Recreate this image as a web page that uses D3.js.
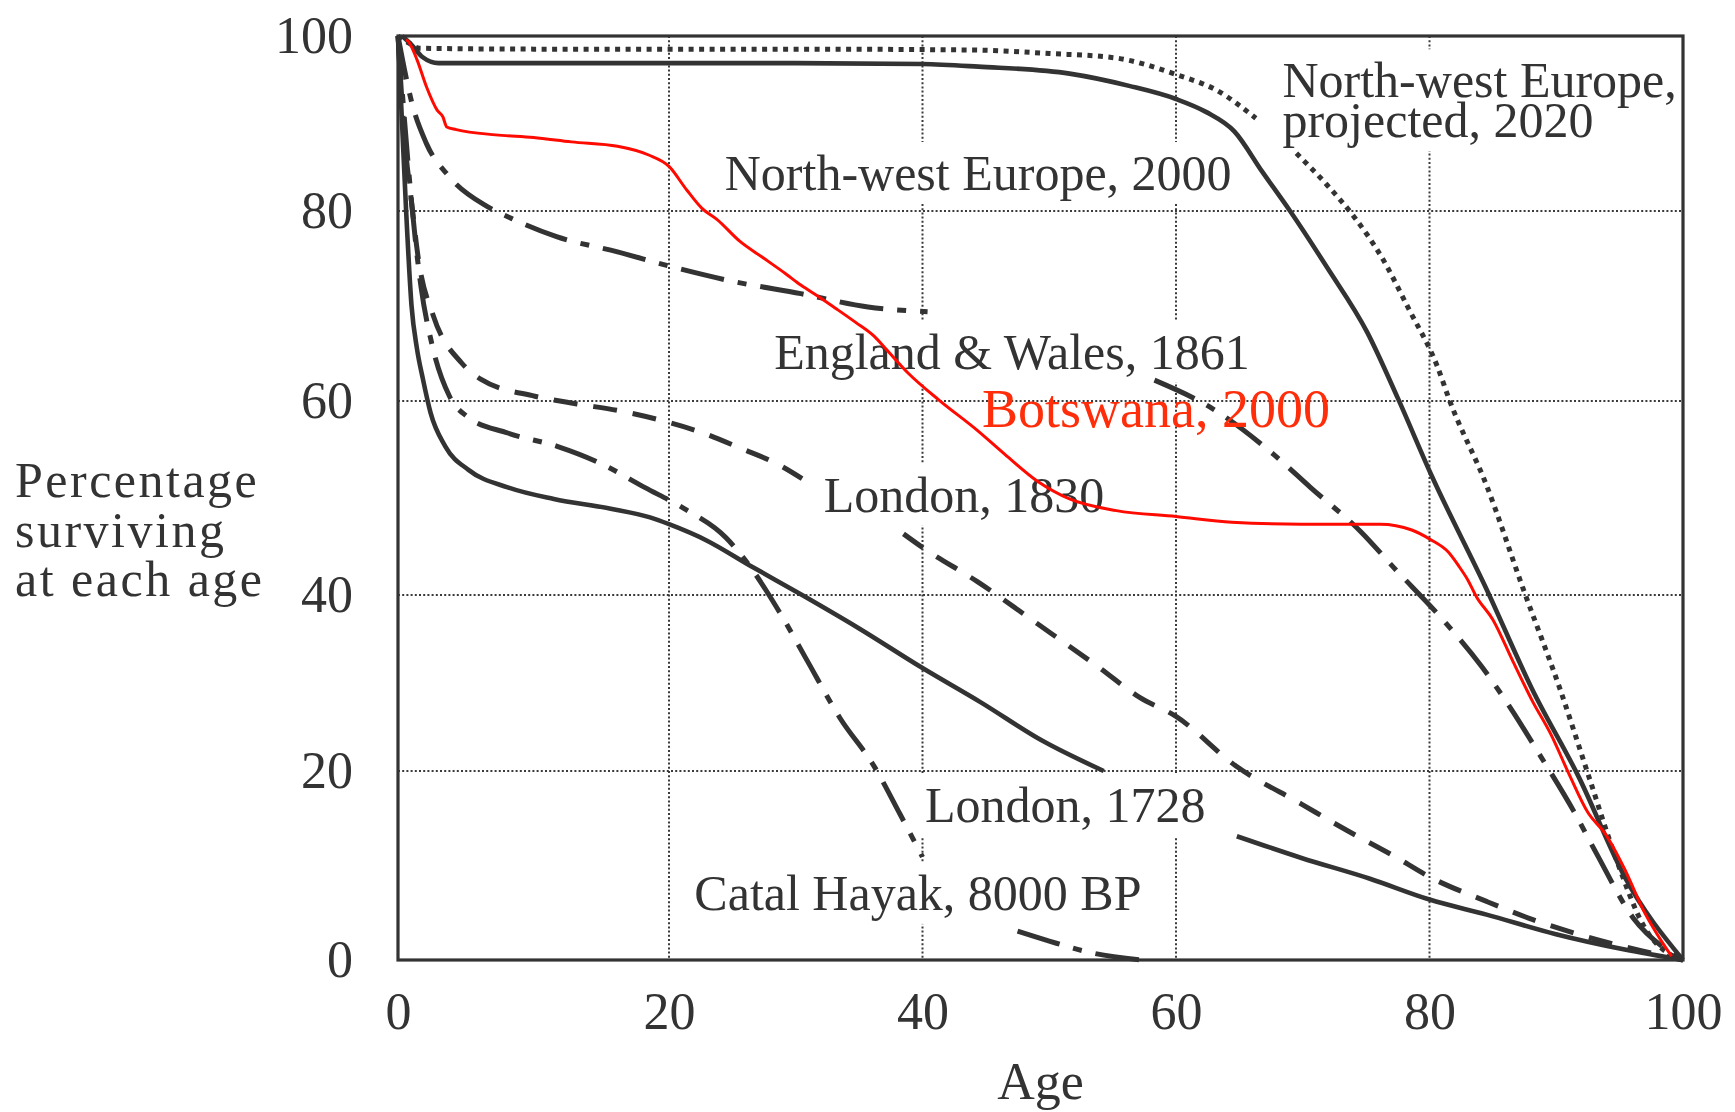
<!DOCTYPE html>
<html>
<head>
<meta charset="utf-8">
<script src="https://cdn.jsdelivr.net/npm/d3@7"></script>
<style>
  body { margin: 0; background: #fff; }
  svg text { font-family: "Liberation Serif", "Times New Roman", serif; fill: #333; }
</style>
</head>
<body>
<div id="viz"></div>
<script>
// survival curves, each point is [age, percentage surviving].
// null = the printed line is broken there (a label sits on top of it)
const nweProjected2020 = [[0,100],[0.8,99.2],[1.6,98.6],[10,98.5],[30,98.5],[44,98.4],[50,98],[55.2,97.5],[60,95.6],[63.2,93.8],[66.3,90.6],
  null,[69.5,86.6],[71.9,83],[74.1,79.3],[76.2,75.2],[78.4,69.6],[80.6,63.7],[81.6,60],[84.5,51.3],[87.4,40.6],[90.3,29.3],[92.5,19.7],[94.7,10.8],[96.9,3.6],[99.4,0.3],[100,0]];
const nwe2000 = [[0.3,100],[1,99],[1.8,97.6],[3,96.9],[10,96.9],[20,96.9],[30,96.9],[40,96.8],[44.4,96.5],[51.6,95.7],[56.3,94.3],[60,92.8],[62.4,91.3],[64.6,89.1],
  [66.8,84.5],[69,80],[71.9,74.1],[75.1,67.2],[77.5,60.3],[80.1,52.5],[84.5,40.6],[88.1,29.3],[91.8,19.3],[95.4,8.8],[100,0]];
const england1861 = [[0,100],[0.5,96],[1,92.5],[2.1,87.7],[3.8,83.9],[6.6,80.5],[8.4,79.2],[11.7,77.3],[16.2,75.7],[20.3,74.1],[25,72.6],[30.4,71.3],[35.7,69.9],[40.4,69.4],
  null,[58.3,62.2],[62.9,59.2],[67.7,54.5],[70.6,51.1],[74.6,46.5],[77.2,42.8],[80.8,37.6],[84.1,31.9],[86.6,26.7],[88.5,22.3],[91.4,15.7],[93.2,11.2],[96.1,4.4],[98.7,1.1],[100,0]];
const london1830 = [[0,100],[0.5,88],[1,81],[1.5,75],[2.6,69],[4.7,64],[6.1,62.3],[10.1,60.5],[13.2,59.7],[16.3,59],[19.7,57.9],[22.7,56.7],[25.7,55.1],[28.7,53.4],[30.5,52],
  null,[38.5,46.3],[40,44.9],[44.3,41.4],[49.1,36.7],[53.8,31.9],[57.1,28.4],[60,26.2],[64.7,20.6],[69.9,16.5],[73.5,13.7],[77.2,11],[80,8.8],[84.5,6.2],[88.1,4.3],[91.8,2.7],[95.4,1.4],[100,0]];
const london1728 = [[0,100],[0.3,90],[0.6,80],[1,70],[1.4,65.5],[1.84,62.3],[2.4,58.8],[3.5,55.3],[5.2,52.9],[8.1,51.1],[11.5,49.9],[15.7,48.9],[18.6,48],[20,47.3],
  [23,45.6],[26.3,43.1],[30.5,40],[35,36.2],[40,31.7],[44.6,27.8],[49.5,23.4],[54.3,20],
  null,[64.8,13.1],[69.9,10.8],[75.3,8.6],[80,6.4],[84.5,4.8],[89.9,2.75],[95.4,1.1],[100,0]];
const catalHayak = [[0,100],[0.5,90],[1,81],[1.7,72],[2.5,66],[3.8,60.5],[5.1,58.4],[8.1,56.7],[11.8,55.3],[14.9,53.6],[18.2,51.1],[21.2,48.9],[24.5,45.9],[26.3,43.1],
  [28.7,38.1],[30.8,32.8],[33.5,26],[36.2,20.5],[38.2,15.5],[40,10.9],
  null,[47.5,3.05],[50,2],[53.2,0.8],[57.3,0]];
const botswana2000 = [[0.6,99.6],[0.8,99.3],[1.4,97.3],[2.1,94.2],[2.9,91.5],[3.3,90.8],[3.6,89.6],[4.3,89.3],[7.2,88.7],[10,88.4],[12.8,87.9],[16.2,87.4],[18.5,86.4],
  [20,85.1],[21.4,82.4],[22.6,80.3],[23.8,79.1],[25.6,76.8],[27.4,75.1],[29.2,73.4],[30.4,72.2],[31.9,70.9],[33.1,69.8],[34.7,68.3],[36.2,66.8],[37.1,65.5],[38.9,62.9],
  [41.3,60.1],[44.3,57],[46.5,54.5],[49.1,51.7],[51.6,49.9],[55.3,48.7],[60,48.1],[64.4,47.5],[69.9,47.3],[76.1,47.3],[78.6,46.7],[80.1,45.7],[81.5,44.4],[82.3,43],
  [83,41.6],[83.7,39.8],[85,37.2],[86.6,32.4],[88.1,28],[89.6,24.1],[91,19.7],[92.5,15.6],[93.9,13.3],[95.4,9.6],[96.9,5.2],[98.3,2],[99.1,0.4]];

const xTicks = [0, 20, 40, 60, 80, 100];
const yTicks = [0, 20, 40, 60, 80, 100];
const gridValues = [20, 40, 60, 80];
const xTitle = "Age";
const yTitleLines = ["Percentage", "surviving", "at each age"];

const width = 1735, height = 1112;

const svg = d3.select("#viz")
  .append("svg")
    .attr("width", width)
    .attr("height", height);

// the printed figure is slightly stretched, so the scales follow its gridlines
const x = d3.scaleLinear()
  .domain([0, 20, 100])
  .range([398, 669, 1683]);
const y = d3.scaleLinear()
  .domain([0, 20, 40, 60, 80, 100])
  .range([960, 771, 595, 401, 211, 36]);

// dotted grid
const grid = svg.append("g")
  .attr("stroke", "#3a3a3a")
  .attr("stroke-width", 2)
  .attr("stroke-dasharray", "2,2.2");
grid.selectAll(".vgrid")
  .data(gridValues)
  .join("line")
    .attr("class", "vgrid")
    .attr("x1", d => x(d)).attr("x2", d => x(d))
    .attr("y1", y(100)).attr("y2", y(0));
grid.selectAll(".hgrid")
  .data(gridValues)
  .join("line")
    .attr("class", "hgrid")
    .attr("x1", x(0)).attr("x2", x(100))
    .attr("y1", d => y(d)).attr("y2", d => y(d));

// layers: white boxes behind the labels hide the grid, then the curves
const boxLayer = svg.append("g");
const curveLayer = svg.append("g");
const labelLayer = svg.append("g");

const line = d3.line()
  .defined(d => d !== null)
  .x(d => x(d[0]))
  .y(d => y(d[1]))
  .curve(d3.curveMonotoneX);

const series = [
  {data: nweProjected2020, dash: "5,5.5", width: 5},
  {data: nwe2000, dash: null, width: 4.6},
  {data: england1861, dash: "44,14,9,14", width: 5},
  {data: london1830, dash: "24,16", width: 5},
  {data: london1728, dash: null, width: 4.6},
  {data: catalHayak, dash: "44,14,9,14", width: 5}
];

curveLayer.selectAll("path")
  .data(series)
  .join("path")
    .attr("d", d => line(d.data))
    .attr("fill", "none")
    .attr("stroke", "#333")
    .attr("stroke-width", d => d.width)
    .attr("stroke-dasharray", d => d.dash);

// curve labels, placed at [age, percentage] of their baseline start
const labels = [
  {lines: ["North-west Europe, 2000"], at: [24.4, 82.4]},
  {lines: ["North-west Europe,", "projected, 2020"], at: [68.4, 93.0], lineStep: 40},
  {lines: ["England & Wales, 1861"], at: [28.3, 63.4]},
  {lines: ["London, 1830"], at: [32.2, 48.6]},
  {lines: ["London, 1728"], at: [40.2, 14.6]},
  {lines: ["Catal Hayak, 8000 BP"], at: [22.0, 5.3]}
];

labels.forEach(l => {
  const t = labelLayer.append("text")
    .attr("x", x(l.at[0]))
    .attr("y", y(l.at[1]))
    .style("font-size", "50px");
  l.lines.forEach((s, i) => {
    t.append("tspan")
      .attr("x", x(l.at[0]))
      .attr("dy", i === 0 ? 0 : l.lineStep)
      .text(s);
  });
  const bb = t.node().getBBox();
  boxLayer.append("rect")
    .attr("x", bb.x - 14)
    .attr("y", bb.y - 3)
    .attr("width", bb.width + 28)
    .attr("height", bb.height + 6)
    .attr("fill", "#fff");
});

// Botswana overlay drawn in red on top of everything
svg.append("path")
  .attr("d", line(botswana2000))
  .attr("fill", "none")
  .attr("stroke", "#ff0a00")
  .attr("stroke-width", 3);
svg.append("text")
  .attr("x", x(44.7))
  .attr("y", y(57.3))
  .style("font-size", "54px")
  .style("fill", "#ff2d0a")
  .text("Botswana, 2000");

// plot frame
svg.append("rect")
  .attr("x", x(0))
  .attr("y", y(100))
  .attr("width", x(100) - x(0))
  .attr("height", y(0) - y(100))
  .attr("fill", "none")
  .attr("stroke", "#333")
  .attr("stroke-width", 3.2);

// axes: only the numbers, no ticks or domain line
const xAxisG = svg.append("g")
  .attr("transform", "translate(0," + y(0) + ")")
  .call(d3.axisBottom(x).tickValues(xTicks).tickSize(0).tickPadding(32));
const yAxisG = svg.append("g")
  .attr("transform", "translate(" + x(0) + ",0)")
  .call(d3.axisLeft(y).tickValues(yTicks).tickSize(0).tickPadding(45));
[xAxisG, yAxisG].forEach(g => {
  g.select(".domain").remove();
  g.selectAll("text")
    .style("font-size", "52px")
    .style("font-family", "'Liberation Serif', 'Times New Roman', serif")
    .attr("fill", "#333");
});

// axis titles
svg.append("text")
  .attr("x", (x(0) + x(100)) / 2)
  .attr("y", 1099)
  .attr("text-anchor", "middle")
  .style("font-size", "52px")
  .text(xTitle);

svg.append("g")
  .selectAll("text")
  .data(yTitleLines)
  .join("text")
    .attr("x", 15)
    .attr("y", (d, i) => 497 + i * 49.5)
    .style("font-size", "50px")
    .style("letter-spacing", "2.5px")
    .text(d => d);
</script>
</body>
</html>
